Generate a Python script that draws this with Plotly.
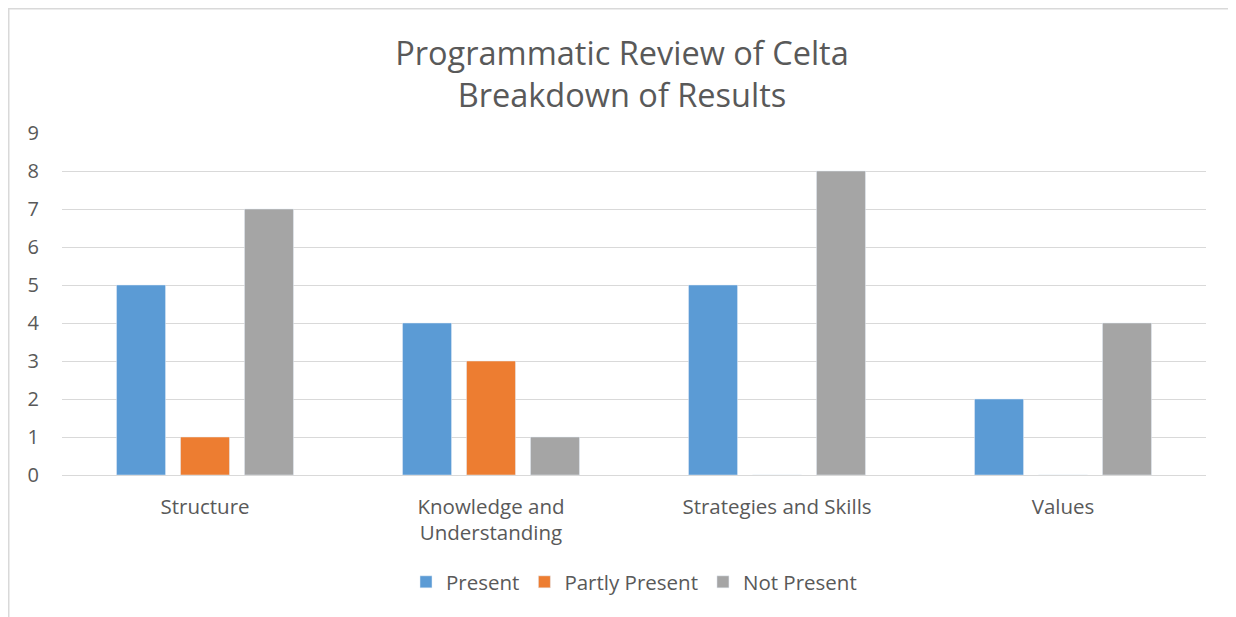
import plotly.graph_objects as go

categories = ["Structure", "Knowledge and<br>Understanding", "Strategies and Skills", "Values"]
present = [5, 4, 5, 2]
partly_present = [1, 3, 0, 0]
not_present = [7, 1, 8, 4]

OFF = 8  # page body margin
W, H = 1236, 617
L, R, T, B = 62 - OFF, 1206 - OFF, 133 - OFF, 475 - OFF

fig = go.Figure()
fig.add_bar(x=categories, y=present, name="Present", marker_color="#5b9bd5")
fig.add_bar(x=categories, y=partly_present, name="Partly Present", marker_color="#ed7d31")
fig.add_bar(x=categories, y=not_present, name="Not Present", marker_color="#a5a5a5")

def px_x(p):
    return (p - L) / (R - L)

def px_y(p):
    return (B - p) / (B - T)

font = "Open Sans, Noto Sans, sans-serif"
fig.update_layout(
    width=W - OFF, height=H - OFF,
    margin=dict(l=L, r=W - OFF - R, t=T, b=H - OFF - B, pad=0),
    paper_bgcolor="white", plot_bgcolor="white",
    barmode="group", bargap=0.329, bargroupgap=0.234,
    font=dict(family=font, color="#595959", size=20),
    title=dict(text="Programmatic Review of Celta<br>Breakdown of Results",
               x=614 / (W - OFF), xanchor="center", xref="container",
               y=1 - 57 / (H - OFF), yanchor="middle", yref="container",
               font=dict(size=32.5, color="#595959", family=font)),
    legend=dict(orientation="h", x=0.5, xanchor="center", y=px_y(582 - OFF), yanchor="middle",
                font=dict(size=20.5, color="#595959"), itemwidth=30, traceorder="normal"),
    showlegend=True,
)
fig.update_xaxes(showgrid=False, showline=True, linecolor="#d9d9d9", linewidth=1,
                 ticks="", tickfont=dict(size=20.5, color="#595959"), ticklabelstandoff=13)
fig.update_yaxes(range=[0, 9], dtick=1, showgrid=True, gridcolor="#d9d9d9", gridwidth=1,
                 zeroline=False, showline=False, ticks="", ticklabelstandoff=22,
                 tickfont=dict(size=20, color="#595959"))

# chart border (top and left)
fig.add_shape(type="line", xref="paper", yref="paper",
              x0=px_x(0), x1=px_x(W), y0=px_y(0.75), y1=px_y(0.75),
              line=dict(color="#d9d9d9", width=1.5))
fig.add_shape(type="line", xref="paper", yref="paper",
              x0=px_x(0.75), x1=px_x(0.75), y0=px_y(0), y1=px_y(H),
              line=dict(color="#d9d9d9", width=1.5))

fig.write_html("out.html")
